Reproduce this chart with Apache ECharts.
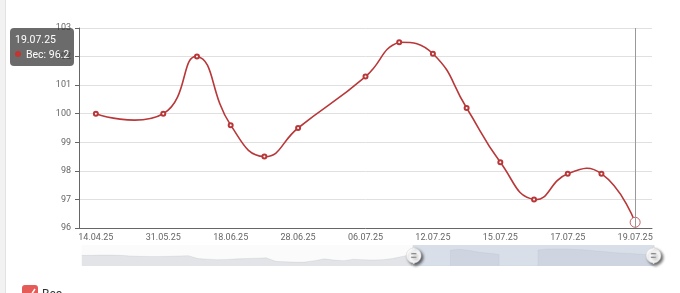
<!DOCTYPE html>
<html><head><meta charset="utf-8">
<script src="https://cdn.jsdelivr.net/npm/echarts@6/dist/echarts.min.js"></script>
<style>
html,body{margin:0;padding:0;background:#fff;overflow:hidden}
#stripe{position:absolute;left:0;top:0;width:5px;height:293px;background:#f2f2f2;border-right:1px solid #e2e2e2}
#chart{position:absolute;left:0;top:0;width:680px;height:293px}
</style>
</head><body><div id="stripe"></div><div id="chart"></div>
<script>
// main data
const categories = ['14.04.25','15.05.25','31.05.25','08.06.25','18.06.25','23.06.25','28.06.25','02.07.25','06.07.25','09.07.25','12.07.25','14.07.25','15.07.25','16.07.25','17.07.25','18.07.25','19.07.25'];
const weights = [100, null, 100, 102, 99.6, 98.5, 99.5, null, 101.3, 102.5, 102.1, 100.2, 98.3, 97.0, 97.9, 97.9, 96.2];
const seriesName = 'Вес';
const yMin = 96, yMax = 103, yStep = 1;
// data zoom overview (shadow) values
const overviewValues = [54,54,56,56,54,50,47,46,46,47,50,52,31,27,23,25,29,31,34,37,11,8,6,6,16,29,20,16,26,23,21,23,31,46,61,null,null,null,92,97,88,76,69,61,null,null,null,92,100,100,100,96,92,86,80,73,69,65,61,61];
const overviewLabels = overviewValues.map((v, i) => 'd' + i);
const zoomStart = 57.8, zoomEnd = 100;
const tipIndex = 16;

const FONT = 'Roboto, "Open Sans", sans-serif';
const RED = '#b8383a';
const SMOOTH = 0.5;

// Classic (v4-style) smoothed line drawn through the axis scales (api.coord)
function renderSmoothLine(params, api) {
  if (params.dataIndexInside !== 0) return null;
  const pts = [];
  for (let j = 0; j < params.dataInsideLength; j++) {
    const v = api.value(1, j);
    if (v == null || isNaN(v)) continue;
    pts.push(api.coord([api.value(0, j), v]));
  }
  if (pts.length < 2) return null;
  const mn = [Infinity, Infinity], mx = [-Infinity, -Infinity];
  pts.forEach(p => { mn[0] = Math.min(mn[0], p[0]); mn[1] = Math.min(mn[1], p[1]); mx[0] = Math.max(mx[0], p[0]); mx[1] = Math.max(mx[1], p[1]); });
  const clamp = c => [Math.max(mn[0], Math.min(mx[0], c[0])), Math.max(mn[1], Math.min(mx[1], c[1]))];
  const dist = (a, b) => Math.hypot(a[0] - b[0], a[1] - b[1]);
  const segs = [];
  let cp0 = pts[0].slice();
  for (let k = 1; k < pts.length; k++) {
    const p = pts[k], prev = pts[k - 1], next = pts[k + 1];
    let cp1, v = null, ratio = 0.5;
    if (!next) {
      cp1 = p.slice();
    } else {
      v = [next[0] - prev[0], next[1] - prev[1]];
      const lp = dist(p, prev), ln = dist(p, next);
      ratio = ln / (ln + lp);
      cp1 = [p[0] - v[0] * SMOOTH * (1 - ratio), p[1] - v[1] * SMOOTH * (1 - ratio)];
    }
    const c0 = clamp(cp0), c1 = clamp(cp1);
    segs.push({
      type: 'bezierCurve',
      shape: {x1: prev[0], y1: prev[1], cpx1: c0[0], cpy1: c0[1], cpx2: c1[0], cpy2: c1[1], x2: p[0], y2: p[1]},
      style: {stroke: RED, lineWidth: 1.6, fill: null, lineCap: 'round'}
    });
    if (v) cp0 = [p[0] + v[0] * SMOOTH * ratio, p[1] + v[1] * SMOOTH * ratio];
  }
  return {type: 'group', children: segs};
}

const chart = echarts.init(document.getElementById('chart'), null, {renderer: 'canvas'});
chart.setOption({
  animation: false,
  grid: {left: 79, right: 28, top: 28, bottom: 65, containLabel: false},
  tooltip: {
    trigger: 'axis',
    alwaysShowContent: true,
    position: [10, 28],
    backgroundColor: 'rgba(50,50,50,0.72)',
    borderWidth: 0,
    padding: [4, 5],
    transitionDuration: 0,
    textStyle: {color: '#fff', fontSize: 10.5, fontFamily: FONT},
    extraCssText: 'border-radius:4px;box-shadow:none;line-height:15px;',
    axisPointer: {type: 'line', lineStyle: {color: '#999', width: 1, type: 'solid'}},
    formatter: function (params) {
      const p = params.filter(q => q.seriesIndex === 0)[0];
      if (!p) return '';
      return p.name + '<br/><span style="display:inline-block;width:6px;height:6px;border-radius:50%;background:#c23531;margin-right:5px;vertical-align:middle;position:relative;top:-1px"></span>' + p.seriesName + ': ' + p.value;
    }
  },
  xAxis: [{
    type: 'category',
    data: categories,
    boundaryGap: true,
    axisLine: {lineStyle: {color: '#666', width: 1}},
    axisTick: {interval: 1, length: 4, lineStyle: {color: '#666'}},
    axisLabel: {interval: 1, color: '#666', fontSize: 9, fontFamily: FONT, margin: 5},
    splitLine: {show: false}
  }, {
    type: 'category',
    data: overviewLabels,
    show: false,
    axisPointer: {show: false}
  }],
  yAxis: [{
    type: 'value',
    min: yMin, max: yMax, interval: yStep,
    axisLine: {show: true, lineStyle: {color: '#666', width: 1}},
    axisTick: {show: true, length: 4, lineStyle: {color: '#666'}},
    axisLabel: {color: '#666', fontSize: 9, fontFamily: FONT, margin: 8},
    splitLine: {lineStyle: {color: '#e0e0e0', width: 1}}
  }, {
    type: 'value', show: false
  }],
  dataZoom: [{
    type: 'slider',
    xAxisIndex: 1,
    start: zoomStart, end: zoomEnd,
    left: 79, right: 28, top: 245, height: 21,
    showDetail: false,
    brushSelect: false,
    moveHandleSize: 0,
    showDataShadow: true,
    backgroundColor: 'rgba(47,69,84,0.02)',
    borderColor: 'transparent',
    fillerColor: 'rgba(167,183,204,0.4)',
    handleIcon: 'path://M10.7,11.9v-1.3H9.3v1.3c-4.9,0.3-8.8,4.4-8.8,9.4c0,5,3.9,9.1,8.8,9.4v1.3h1.3v-1.3c4.9-0.3,8.8-4.4,8.8-9.4C19.5,16.3,15.6,12.2,10.7,11.9z M13.3,24.4H6.7V23h6.6V24.4z M13.3,19.6H6.7v-1.4h6.6V19.6z',
    handleSize: '80%',
    handleStyle: {color: '#fff', borderColor: '#ccc', borderWidth: 0.5, shadowBlur: 3, shadowColor: 'rgba(0,0,0,0.6)', shadowOffsetX: 2, shadowOffsetY: 2},
    emphasis: {handleStyle: {borderColor: '#ccc'}},
    dataBackground: {lineStyle: {color: '#2f4554', width: 0.5, opacity: 0.15}, areaStyle: {color: 'rgba(47,69,84,0.35)', opacity: 0.35}},
    selectedDataBackground: {lineStyle: {color: '#2f4554', width: 0.5, opacity: 0.15}, areaStyle: {color: 'rgba(47,69,84,0.3)', opacity: 0.3}}
  }],
  graphic: [
    {type: 'rect', shape: {x: 22, y: 285, width: 16, height: 16, r: 3}, style: {fill: '#e55b58'}, silent: true},
    {type: 'polyline', shape: {points: [[25, 294], [29, 298], [35, 289]]}, style: {stroke: '#fff', lineWidth: 1.5, fill: null}, silent: true},
    {type: 'text', x: 42, y: 289, style: {text: seriesName, fontSize: 12, fontFamily: FONT, fill: '#333'}, silent: true}
  ],
  series: [{
    name: seriesName,
    type: 'line',
    data: weights,
    z: 3,
    connectNulls: true,
    symbol: 'emptyCircle',
    symbolSize: 4,
    showAllSymbol: true,
    itemStyle: {color: RED, borderWidth: 0.6},
    lineStyle: {color: RED, width: 0, opacity: 0},
    emphasis: {scale: 2.5, itemStyle: {color: '#fff', borderColor: RED, borderWidth: 0.8}}
  }, {
    name: seriesName + '-curve',
    type: 'custom',
    z: 2,
    silent: true,
    tooltip: {show: false},
    renderItem: renderSmoothLine,
    encode: {x: 0, y: 1},
    data: weights.map((v, i) => [i, v == null ? '-' : v])
  }, {
    name: 'overview',
    type: 'line',
    xAxisIndex: 1, yAxisIndex: 1,
    data: overviewValues,
    showSymbol: false,
    symbol: 'none',
    lineStyle: {opacity: 0},
    silent: true,
    tooltip: {show: false},
    emphasis: {disabled: true}
  }]
});
chart.dispatchAction({type: 'showTip', seriesIndex: 0, dataIndex: tipIndex});
</script>
</body></html>
